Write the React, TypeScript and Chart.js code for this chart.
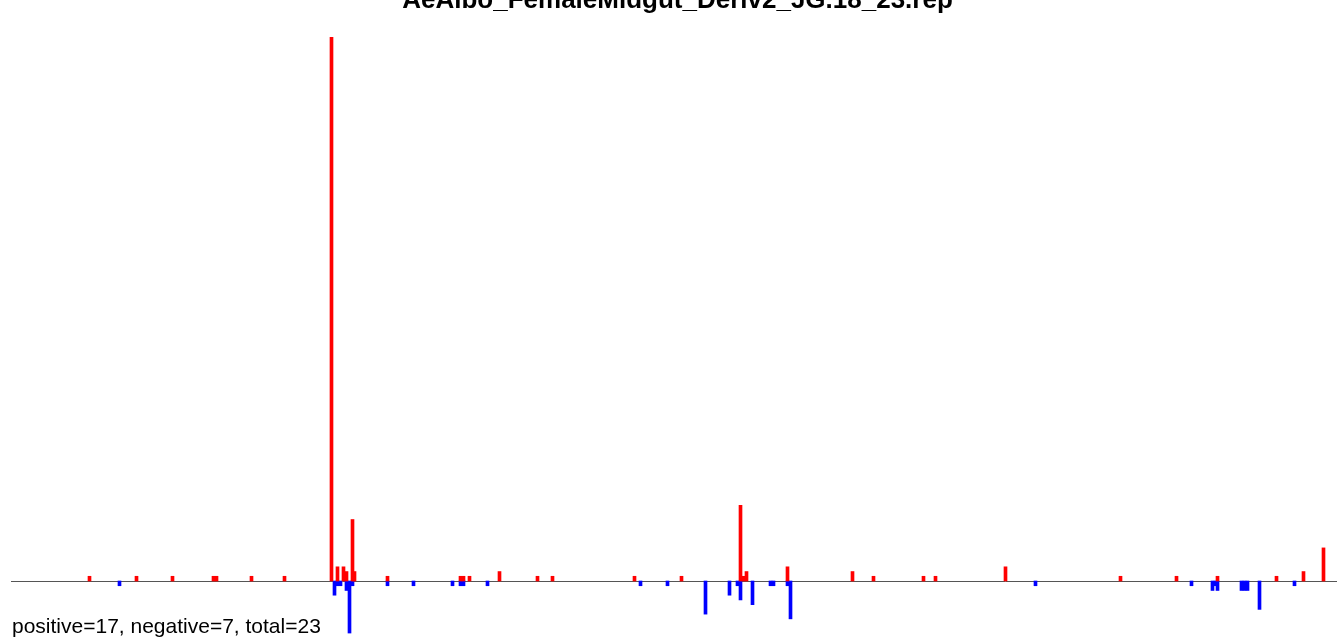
import React, { useEffect, useRef } from "react";
import { Chart, registerables } from "chart.js";

Chart.register(...registerables);

const chartTitle = "AeAlbo_FemaleMidgut_Deriv2_JG.18_23.rep";
const summaryText = "positive=17, negative=7, total=23";

// bin start positions and counts of the upward (red) bars
const posBins = [88, 135, 171, 212, 215, 250, 283, 330, 336, 342, 345, 351, 353, 386, 459, 462, 468, 498, 536, 551, 633, 680, 739, 742, 745, 786, 851, 872, 922, 934, 1004, 1119, 1175, 1216, 1275, 1302, 1322];
const posValues = [1, 1, 1, 1, 1, 1, 1, 115, 3, 3, 2, 13, 2, 1, 1, 1, 1, 2, 1, 1, 1, 1, 16, 1, 2, 3, 2, 1, 1, 1, 3, 1, 1, 1, 1, 2, 7];

// bin start positions and counts of the downward (blue) bars
const negBins = [118, 333, 336, 339, 345, 348, 351, 386, 412, 451, 459, 462, 486, 639, 666, 704, 728, 736, 739, 751, 769, 772, 786, 789, 1034, 1190, 1211, 1214, 1216, 1240, 1243, 1246, 1258, 1293];
const negValues = [1, 3, 1, 1, 2, 11, 1, 1, 1, 1, 1, 1, 1, 1, 1, 7, 3, 1, 4, 5, 1, 1, 1, 8, 1, 1, 2, 1, 2, 2, 2, 2, 6, 1];

const binWidth = 3;
const xMin = 11;
const xMax = 1337;
const yMax = 115;
const yMin = -12.47;

export default function App() {
  const canvasRef = useRef<HTMLCanvasElement | null>(null);

  useEffect(() => {
    if (!canvasRef.current) return;

    const textPlugin = {
      id: "textPlugin",
      beforeDatasetsDraw(chart: any) {
        const { ctx, chartArea, scales } = chart;
        const y0 = Math.round(scales.y.getPixelForValue(0)) + 0.5;
        ctx.save();
        ctx.strokeStyle = "#555555";
        ctx.lineWidth = 1;
        ctx.beginPath();
        ctx.moveTo(chartArea.left, y0);
        ctx.lineTo(chartArea.right, y0);
        ctx.stroke();
        ctx.restore();
      },
      afterDraw(chart: any) {
        const { ctx } = chart;
        ctx.save();
        ctx.fillStyle = "#000000";
        ctx.font = 'bold 26px "Liberation Sans", Arial, sans-serif';
        ctx.textAlign = "center";
        ctx.textBaseline = "alphabetic";
        ctx.fillText(chartTitle, 677.5, 7.5);
        ctx.font = '21px "Liberation Sans", Arial, sans-serif';
        ctx.textAlign = "left";
        ctx.fillText(summaryText, 12, 633);
        ctx.restore();
      },
    };

    const chart = new Chart(canvasRef.current, {
      type: "bar",
      data: {
        datasets: [
          {
            label: "positive",
            data: posBins.map((b, i) => ({ x: b + binWidth / 2, y: posValues[i] })),
            backgroundColor: "#ff0000",
            borderWidth: 0,
            barThickness: binWidth,
            grouped: false,
          },
          {
            label: "negative",
            data: negBins.map((b, i) => ({ x: b + binWidth / 2, y: -negValues[i] })),
            backgroundColor: "#0000ff",
            borderWidth: 0,
            barThickness: binWidth,
            grouped: false,
          },
        ],
      },
      options: {
        animation: false,
        responsive: false,
        maintainAspectRatio: false,
        layout: { padding: { left: 11, right: 0, top: 37, bottom: 0 } },
        plugins: {
          legend: { display: false },
          title: { display: false },
          tooltip: { enabled: false },
        },
        scales: {
          x: {
            type: "linear",
            display: false,
            min: xMin,
            max: xMax,
            offset: false,
          },
          y: {
            display: false,
            min: yMin,
            max: yMax,
          },
        },
      },
      plugins: [textPlugin],
    });

    return () => chart.destroy();
  }, []);

  return (
    <div style={{ position: "fixed", left: 0, top: 0, width: 1337, height: 640, background: "#ffffff" }}>
      <canvas ref={canvasRef} width={1337} height={640} style={{ display: "block", width: 1337, height: 640 }} />
    </div>
  );
}
